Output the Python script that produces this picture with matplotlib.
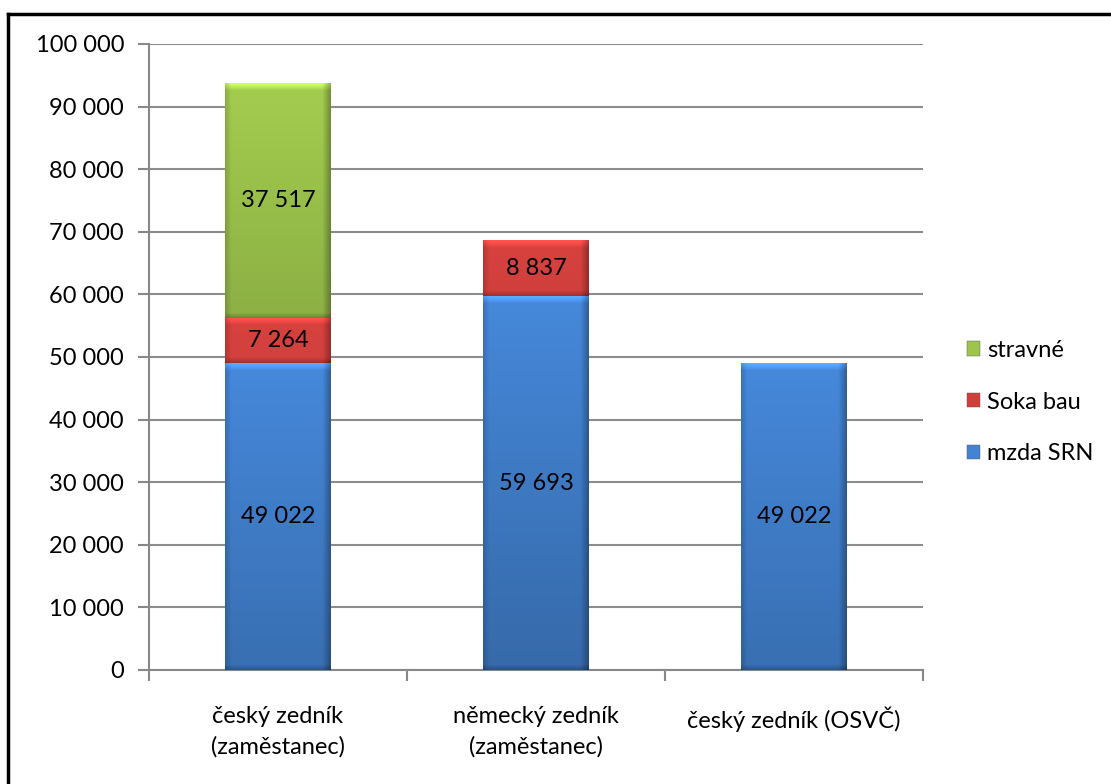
import matplotlib
matplotlib.use('Agg')
import matplotlib.pyplot as plt
import numpy as np
from matplotlib.patches import Patch
from matplotlib.lines import Line2D

categories = ['český zedník\n(zaměstanec)', 'německý zedník\n(zaměstanec)', 'český zedník (OSVČ)']
mzda = [49022, 59693, 49022]
soka = [7264, 8837, 0]
stravne = [37517, 0, 0]
series = [('mzda SRN', mzda), ('Soka bau', soka), ('stravné', stravne)]
colors = {'mzda SRN': '#4383d2', 'Soka bau': '#cf3f3c', 'stravné': '#9dc54c'}
yticks = np.arange(0, 100001, 10000)

plt.rcParams['font.family'] = ['Lato', 'DejaVu Sans']
FS = 17

fig = plt.figure(figsize=(11.11, 7.84), dpi=100)
ax = fig.add_axes([149/1111, 1 - 670/784, (923-149)/1111, 626/784])

# figure border (only top and left visible)
fig.add_artist(Line2D([8/1111, 1], [1 - 14/784, 1 - 14/784], color='black', lw=2.5, transform=fig.transFigure))
fig.add_artist(Line2D([8/1111, 8/1111], [0, 1 - 14/784], color='black', lw=2.5, transform=fig.transFigure))

x = np.arange(len(categories))
width = 0.41
px_y = 100000 / 626.0
px_x = 3.0 / 774.0


def shaded(base, h_data, w_data):
    rgb = np.array(matplotlib.colors.to_rgb(base))
    nh = max(int(h_data / px_y), 2)
    nw = max(int(w_data / px_x), 2)
    yy = np.arange(nh)[:, None].astype(float)   # pixels from top
    xx = np.arange(nw)[None, :].astype(float)
    f = np.ones((nh, nw))
    # vertical gradient, lighter at top
    f *= 1.04 - 0.25 * (yy / 400.0)
    # left / right edges darker
    f *= 1 - 0.15 * np.clip(1 - xx / 6, 0, 1)
    f *= 1 - 0.3 * np.clip(1 - (nw - 1 - xx) / 8, 0, 1)
    # top bevel lighter, bottom darker
    f *= 1 + 0.28 * np.clip(1 - yy / 7, 0, 1)
    f *= 1 - 0.22 * np.clip(1 - (nh - 1 - yy) / 5, 0, 1)
    img = np.clip(rgb[None, None, :] * f[:, :, None], 0, 1)
    return img


bottom = np.zeros(len(categories))
handles = []
for name, vals in series:
    vals = np.array(vals, dtype=float)
    bars = ax.bar(x, vals, width, bottom=bottom, color=colors[name], edgecolor='none', zorder=3)
    for b, v in zip(bars, vals):
        if v <= 0:
            continue
        x0, y0 = b.get_x(), b.get_y()
        w, h = b.get_width(), b.get_height()
        ax.imshow(shaded(colors[name], h, w), extent=[x0, x0 + w, y0, y0 + h],
                  aspect='auto', zorder=4, interpolation='bilinear')
        ax.text(x0 + w / 2, y0 + h / 2, f'{int(v):,}'.replace(',', ' '),
                ha='center', va='center', fontsize=FS, color='black', zorder=5)
    bottom += vals
    handles.append(Patch(facecolor=colors[name], edgecolor='#555555', linewidth=0.3, label=name))

ax.set_xlim(-0.5, 2.5)
ax.set_ylim(0, 100000)
ax.set_yticks(yticks)
ax.set_yticklabels([f'{v:,}'.replace(',', ' ') for v in yticks], fontsize=FS)
ax.set_xticks(x)
ax.set_xticklabels(categories, fontsize=FS, linespacing=1.5)
ax.tick_params(axis='x', length=0, pad=26)
ax.set_xticks([-0.5, 0.5, 1.5, 2.5], minor=True)
ax.tick_params(axis='x', which='minor', length=8, color='#888888', width=1.5, direction='out')
ax.tick_params(axis='y', length=8, color='#888888', width=1.5, direction='out', pad=10)
ax.yaxis.grid(True, color='#8c8c8c', lw=1.5, zorder=0)
ax.set_axisbelow(True)
for s in ['top', 'right']:
    ax.spines[s].set_visible(False)
for s in ['left', 'bottom']:
    ax.spines[s].set_color('#888888')
    ax.spines[s].set_linewidth(1.5)

ax.legend(handles=handles[::-1], loc='center left', bbox_to_anchor=(1.057, 0.428),
          frameon=False, fontsize=FS, handlelength=0.55, handleheight=0.55,
          handletextpad=0.3, labelspacing=1.3, borderaxespad=0, borderpad=0)

fig.savefig('out.png', dpi=100)
